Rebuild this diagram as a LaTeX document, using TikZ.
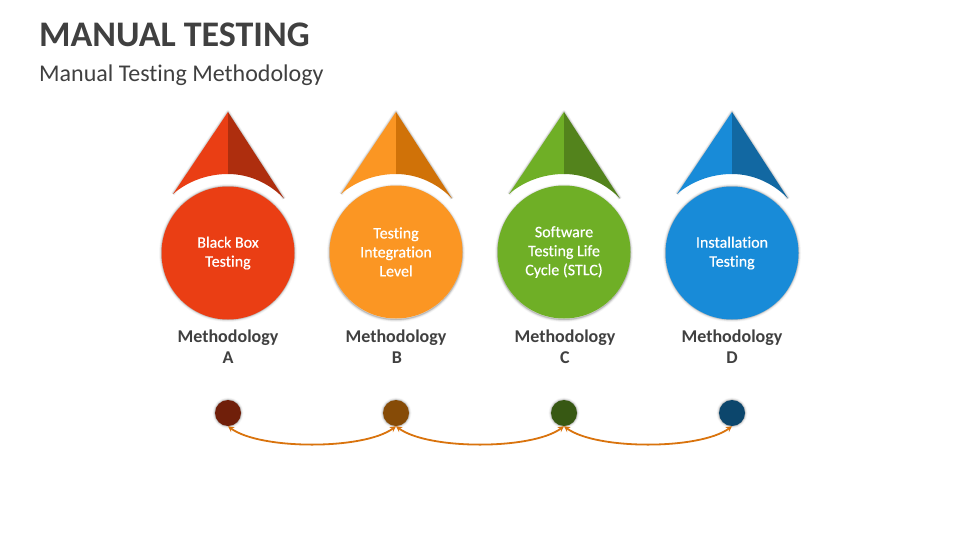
\documentclass[tikz,border=0pt]{standalone}
\usepackage{fontspec}
\setmainfont[Ligatures=NoCommon]{Carlito}
\newfontfamily\discfont[Ligatures=NoCommon,RawFeature={embolden=0.5}]{Carlito}
\usetikzlibrary{arrows.meta}
\definecolor{tA}{HTML}{EA3E14}\definecolor{sA}{HTML}{AE2E0E}\definecolor{dA}{HTML}{701F0A}
\definecolor{tB}{HTML}{FB9623}\definecolor{sB}{HTML}{D07208}\definecolor{dB}{HTML}{864B07}
\definecolor{tC}{HTML}{6FAF26}\definecolor{sC}{HTML}{53831C}\definecolor{dC}{HTML}{375813}
\definecolor{tD}{HTML}{188BD8}\definecolor{sD}{HTML}{1268A2}\definecolor{dD}{HTML}{0C466C}
\definecolor{ink}{HTML}{404040}\definecolor{linkc}{HTML}{D9730D}
\tikzset{
 disc/.style={circle,inner sep=0pt,minimum size=133pt,align=center,text=white,font=\discfont\fontsize{16}{19}\selectfont},
 method/.style={align=center,text=ink,font=\bfseries\fontsize{18}{21}\selectfont},
 dotnode/.style={circle,inner sep=0pt,minimum size=26pt},
 linkline/.style={draw=linkc,line width=1.8pt,{Stealth[length=6pt,width=6pt]}-{Stealth[length=6pt,width=6pt]}},
}
\newcommand{\softring}[3]{%
 \foreach \w/\o in {5/.03,3.5/.05,2/.08,1/.12}{\draw[black,line width=\w pt,opacity=\o] (#1,#2) circle[radius=#3];}}
\newcommand{\spear}[3]{% cx, light, dark
 \foreach \w/\o in {4/.05,2.5/.07,1/.1}{%
  \draw[black,line width=\w pt,opacity=\o,line join=round] (#1-55,194) -- (#1,112) -- (#1+56,198.5);}
 \fill[#2] (#1-55,194) -- (#1,112) -- (#1,174) .. controls (#1-20,174) and (#1-40,181) .. cycle;
 \fill[#3] (#1+56,198.5) -- (#1,112) -- (#1,174) .. controls (#1+22,174) and (#1+42,184) .. cycle;
}
\begin{document}
\begin{tikzpicture}[x=1pt,y=-1pt]
\useasboundingbox (0,0) rectangle (960,540);
\fill[white] (0,0) rectangle (960,540);
\node[anchor=west,text=ink,font=\bfseries\fontsize{36}{40}\selectfont,inner sep=0pt] (title) at (39,34.5) {MANUAL TESTING};
\node[anchor=west,text=ink,font=\fontsize{24}{28}\selectfont,inner sep=0pt] (sub) at (39,75) {Manual Testing Methodology};
\spear{228}{tA}{sA}\spear{396}{tB}{sB}\spear{564}{tC}{sC}\spear{732}{tD}{sD}
\softring{228}{253}{66.5}\softring{396}{253}{66.5}\softring{564}{253}{66.5}\softring{732}{253}{66.5}
\node[disc,fill=tA] (c1) at (228,253) {Black Box\\Testing};
\node[disc,fill=tB] (c2) at (396,252) {Testing\\Integration\\Level};
\node[disc,fill=tC] (c3) at (564,252) {Software\\Testing Life\\Cycle (STLC)};
\node[disc,fill=tD] (c4) at (732,253) {Installation\\Testing};
\node[method] (m1) at (228,347) {Methodology\\A};
\node[method] (m2) at (396,347) {Methodology\\\hspace*{2pt}B};
\node[method] (m3) at (565,347) {Methodology\\C};
\node[method] (m4) at (732,347) {Methodology\\D};
\softring{228}{413}{13}\softring{396}{413}{13}\softring{564}{413}{13}\softring{732}{413}{13}
\node[dotnode,fill=dA] (d1) at (228,413) {};
\node[dotnode,fill=dB] (d2) at (396,413) {};
\node[dotnode,fill=dC] (d3) at (564,413) {};
\node[dotnode,fill=dD] (d4) at (732,413) {};
\draw[linkline] (d1.south) .. controls (260,450) and (364,450) .. (d2.south);
\draw[linkline] (d2.south) .. controls (428,450) and (532,450) .. (d3.south);
\draw[linkline] (d3.south) .. controls (596,450) and (700,450) .. (d4.south);
\end{tikzpicture}
\end{document}
